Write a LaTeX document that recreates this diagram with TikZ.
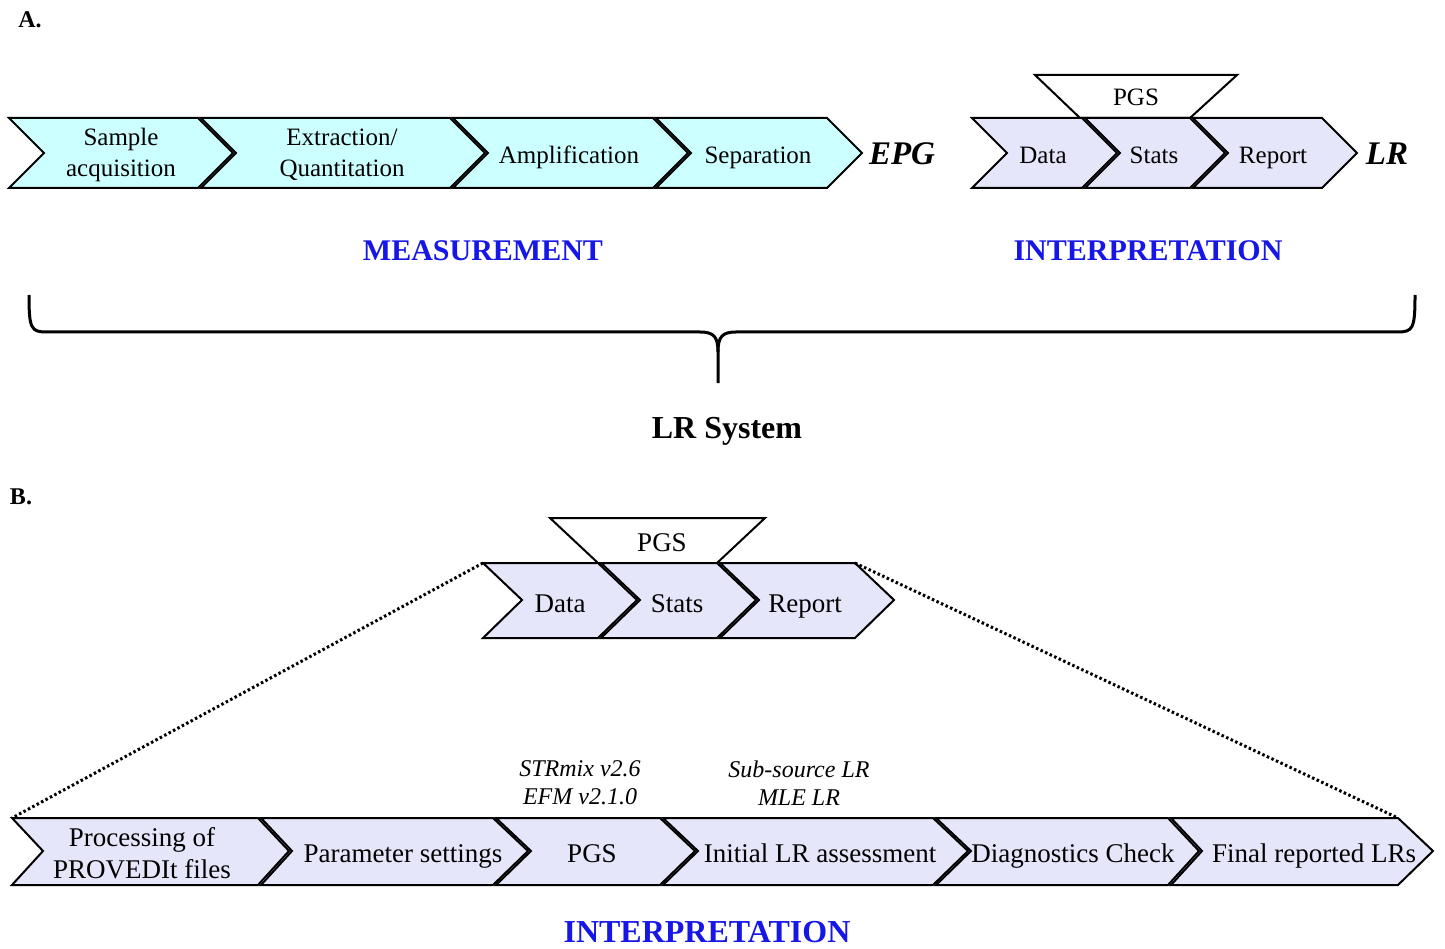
\documentclass[tikz,border=0pt]{standalone}
\usepackage{fontspec}
\setmainfont{Liberation Serif}
\definecolor{cyanfill}{RGB}{204,255,255}
\definecolor{lavfill}{RGB}{230,230,250}
\definecolor{headblue}{RGB}{22,22,230}
\tikzset{
  chevA/.style={draw=black, line width=2pt, line join=miter, fill=cyanfill},
  chevI/.style={draw=black, line width=2pt, line join=miter, fill=lavfill},
  trap/.style={draw=black, line width=2pt, fill=white},
  twolineA/.style={align=center, font=\fontsize{25}{31}\selectfont, inner sep=0pt},
  twolineB/.style={align=center, font=\fontsize{27}{32}\selectfont, inner sep=0pt},
  lblA/.style={twolineA, text height=17pt, text depth=6pt},
  lblB/.style={twolineB, text height=18pt, text depth=6pt},
  tool/.style={align=center, font=\fontsize{24}{28}\selectfont\itshape, inner sep=0pt},
  outcome/.style={font=\fontsize{33}{36}\selectfont\bfseries\itshape, inner sep=0pt},
  stage/.style={font=\fontsize{30}{34}\selectfont\bfseries, text=headblue, inner sep=0pt},
  panel/.style={font=\fontsize{24}{26}\selectfont\bfseries, inner sep=0pt},
  zoomline/.style={line width=3pt, dash pattern=on 2.5pt off 2.5pt}
}
\begin{document}
\begin{tikzpicture}[x=1pt, y=-1pt]
\useasboundingbox (0,0) rectangle (1445,949);

\node [panel] (labA) at (30,20) {A.};
\node [panel] (labB) at (21,497) {B.};

% A: measurement
\draw [chevA] (9,118) -- (198,118) -- (233,153) -- (198,188) -- (9,188) -- (44,153) -- cycle;
\draw [chevA] (201,118) -- (450,118) -- (485,153) -- (450,188) -- (201,188) -- (236,153) -- cycle;
\draw [chevA] (453,118) -- (653,118) -- (688,153) -- (653,188) -- (453,188) -- (488,153) -- cycle;
\draw [chevA] (656,118) -- (827,118) -- (862,153) -- (827,188) -- (656,188) -- (691,153) -- cycle;
\node [twolineA] (sample) at (121,155) {Sample\\acquisition};
\node [twolineA] (extract) at (342,155) {Extraction/\\Quantitation};
\node [lblA] (amplif) at (569,158) {Amplification};
\node [lblA] (separ) at (758,158) {Separation};
\node [outcome] (epg) at (902,154) {EPG};

% A: interpretation
\draw [trap] (1035,75) -- (1237,75) -- (1190,118) -- (1080,118) -- cycle;
\node [lblA] (pgsA) at (1136,100) {PGS};
\draw [chevI] (972,118) -- (1082,118) -- (1117,153) -- (1082,188) -- (972,188) -- (1007,153) -- cycle;
\draw [chevI] (1085,118) -- (1190,118) -- (1225,153) -- (1190,188) -- (1085,188) -- (1120,153) -- cycle;
\draw [chevI] (1193,118) -- (1322,118) -- (1357,153) -- (1322,188) -- (1193,188) -- (1228,153) -- cycle;
\node [lblA] (dataA) at (1043,158) {Data};
\node [lblA] (statsA) at (1154,158) {Stats};
\node [lblA] (reportA) at (1273,158) {Report};
\node [outcome] (lr) at (1387,154) {LR};

\node [stage] (measure) at (483,251) {MEASUREMENT};
\node [stage] (interpA) at (1148,251) {INTERPRETATION};

% brace
\draw [line width=3pt, line join=round]
  (29,295) .. controls (29,329) and (31,332) .. (47,332) -- (700,332)
  .. controls (714,332) and (718,337) .. (718,352) -- (718,383);
\draw [line width=3pt, line join=round]
  (1415,295) .. controls (1415,329) and (1413,332) .. (1397,332) -- (736,332)
  .. controls (722,332) and (718,337) .. (718,352);
\node [font=\fontsize{32}{36}\selectfont\bfseries, inner sep=0pt] (system) at (727,431) {LR System};

% B: zoomed interpretation
\draw [trap] (550,518) -- (765,518) -- (717,563) -- (598,563) -- cycle;
\node [lblB] (pgsB) at (662,545) {PGS};
\draw [chevI] (483,563) -- (598,563) -- (637,600) -- (598,638) -- (483,638) -- (522,600) -- cycle;
\draw [chevI] (601,563) -- (717,563) -- (756,600) -- (717,638) -- (601,638) -- (640,600) -- cycle;
\draw [chevI] (720,563) -- (855,563) -- (894,600) -- (855,638) -- (720,638) -- (759,600) -- cycle;
\node [lblB] (dataB) at (560,606) {Data};
\node [lblB] (statsB) at (677,606) {Stats};
\node [lblB] (reportB) at (805,606) {Report};
\coordinate (dataTL) at (483,563);
\coordinate (reportTR) at (855,563);

\draw [chevI] (12,818) -- (258,818) -- (289,851) -- (258,885) -- (12,885) -- (43,851) -- cycle;
\draw [chevI] (261,818) -- (493,818) -- (528,851) -- (493,885) -- (261,885) -- (292,851) -- cycle;
\draw [chevI] (496,818) -- (660,818) -- (695,851) -- (660,885) -- (496,885) -- (531,851) -- cycle;
\draw [chevI] (663,818) -- (933,818) -- (968,851) -- (933,885) -- (663,885) -- (698,851) -- cycle;
\draw [chevI] (936,818) -- (1168,818) -- (1199,851) -- (1168,885) -- (936,885) -- (971,851) -- cycle;
\draw [chevI] (1171,818) -- (1398,818) -- (1433,851) -- (1398,885) -- (1171,885) -- (1202,851) -- cycle;
\coordinate (procTL) at (12,818);
\coordinate (finalTR) at (1398,818);
\node [twolineB] (proc) at (142,853) {Processing of\\PROVEDIt files};
\node [lblB] (param) at (403,856) {Parameter settings};
\node [lblB] (pgsC) at (592,856) {PGS};
\node [lblB] (initial) at (820,856) {Initial LR assessment};
\node [lblB] (diag) at (1073,856) {Diagnostics Check};
\node [lblB] (final) at (1314,856) {Final reported LRs};

\node [tool] (pgstools) at (580,783) {STRmix v2.6\\EFM v2.1.0};
\node [tool] (lrtypes) at (799,783) {Sub-source LR\\MLE LR};

\draw [zoomline] (dataTL) -- (procTL);
\draw [zoomline] (reportTR) -- (finalTR);

\node [stage, font=\fontsize{32}{36}\selectfont\bfseries] (interpB) at (707,932) {INTERPRETATION};
\end{tikzpicture}
\end{document}
